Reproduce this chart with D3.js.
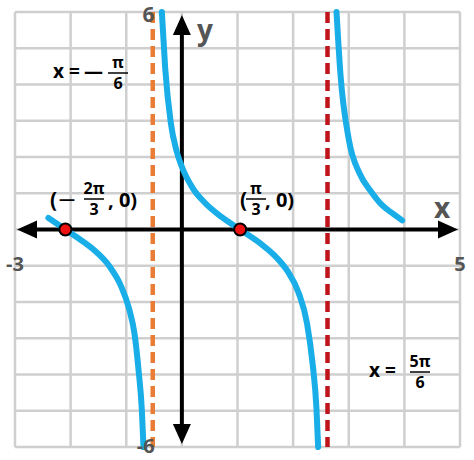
<!DOCTYPE html><html><head><script src="https://cdn.jsdelivr.net/npm/d3@7"></script>
<style>body{margin:0;background:#fff}text{font-family:"Open Sans",sans-serif;font-weight:bold}</style></head><body>
<svg width="474" height="460"></svg>
<script>
const xDomain=[-3,5], yDomain=[-6,6];
const xTicks=[-3,-2,-1,0,1,2,3,4,5], yTicks=[-6,-5,-4,-3,-2,-1,0,1,2,3,4,5,6];
const branch1=[[-2.4,0.32],[-2.2,0.11],[-2.094,0],[-1.9,-0.2],[-1.6,-0.54],[-1.3,-1.02],[-1.1,-1.54],[-0.95,-2.18],[-0.85,-2.89],[-0.78,-3.86],[-0.72,-4.97],[-0.69,-6]];
const branch2=[[-0.36,6],[-0.3,4.45],[-0.2,2.95],[-0.1,2.19],[0,1.73],[0.2,1.13],[0.4,0.76],[0.7,0.36],[1.047,0],[1.4,-0.37],[1.7,-0.77],[1.9,-1.15],[2.1,-1.75],[2.25,-2.59],[2.35,-3.7],[2.42,-4.95],[2.45,-6]];
const branch3=[[2.78,6],[2.85,4.3],[3.0,2.49],[3.2,1.53],[3.4,1.05],[3.6,0.67],[3.8,0.43],[3.96,0.25]];
const asymptotes=[{x:-Math.PI/6,c:"#ea7d35"},{x:5*Math.PI/6,c:"#c0141c"}];
const zeros=[-2*Math.PI/3,Math.PI/3];
const svg=d3.select("svg");
const x=d3.scaleLinear().domain(xDomain).range([15,460]);
const y=d3.scaleLinear().domain(yDomain).range([447,12]);
const g=svg.append("g");
g.selectAll(".v").data(xTicks).join("line").attr("x1",d=>x(d)).attr("x2",d=>x(d)).attr("y1",y(6)).attr("y2",y(-6)).attr("stroke","#cfcfcf").attr("stroke-width",2.5);
g.selectAll(".h").data(yTicks).join("line").attr("y1",d=>y(d)).attr("y2",d=>y(d)).attr("x1",x(-3)).attr("x2",x(5)).attr("stroke","#cfcfcf").attr("stroke-width",2.5);
svg.append("line").attr("x1",x(-3)+12).attr("x2",x(5)-14).attr("y1",y(0)).attr("y2",y(0)).attr("stroke","#000").attr("stroke-width",4);
svg.append("line").attr("x1",x(0)).attr("x2",x(0)).attr("y1",y(6)+18).attr("y2",y(-6)-18).attr("stroke","#000").attr("stroke-width",4);
const tri=(p)=>svg.append("path").attr("d",d3.line()(p)+"Z").attr("fill","#000");
const ax=y(0), ay=x(0);
tri([[x(-3)+2,ax],[x(-3)+22,ax-9],[x(-3)+22,ax+9]]);
tri([[x(5)-2,ax],[x(5)-22,ax-9],[x(5)-22,ax+9]]);
tri([[ay,y(6)+3],[ay-9,y(6)+23],[ay+9,y(6)+23]]);
tri([[ay,y(-6)-3],[ay-9,y(-6)-23],[ay+9,y(-6)-23]]);
svg.selectAll(".asy").data(asymptotes).join("line").attr("x1",d=>x(d.x)).attr("x2",d=>x(d.x)).attr("y1",y(6)).attr("y2",y(-6)).attr("stroke",d=>d.c).attr("stroke-width",4.5).attr("stroke-dasharray","11,6");
const line=d3.line().x(d=>x(d[0])).y(d=>y(d[1])).curve(d3.curveMonotoneX);
[branch1,branch2,branch3].forEach(b=>svg.append("path").attr("d",line(b)).attr("fill","none").attr("stroke","#1aaee8").attr("stroke-width",6).attr("stroke-linecap","round"));
svg.selectAll(".z").data(zeros).join("circle").attr("cx",d=>x(d)).attr("cy",y(0)).attr("r",6).attr("fill","#ee1111").attr("stroke","#000").attr("stroke-width",2);
const t=(s,px,py,sz,col,anchor)=>svg.append("text").text(s).attr("x",px).attr("y",py).attr("font-size",sz).attr("fill",col||"#000").attr("text-anchor",anchor||"start");
t("6",x(-0.6),y(6)+10,21,"#555","middle");
t("-6",x(-0.65),y(-6)+6,20,"#555","middle");
t("-3",x(-3),y(0)+41,20,"#555","middle");
t("5",x(5),y(0)+41,20,"#555","middle");
t("y",205,40,28,"#555","middle");
t("x",442,218,28,"#555","middle");
const frac=(num,den,cx,cy,sz)=>{t(num,cx,cy-4,sz,"#000","middle");t(den,cx,cy+sz+1,sz,"#000","middle");svg.append("line").attr("x1",cx-10).attr("x2",cx+10).attr("y1",cy+1).attr("y2",cy+1).attr("stroke","#000").attr("stroke-width",1.5);};
t("x =",53,78,19); t("—",84,78,19); frac("π","6",118,72,16);
t("x =",369,377,19); frac("5π","6",420,371,16);
t("(",50,207,21); t("—",59,204,16); frac("2π","3",94,198,16); t(", 0)",108,207,20);
t("(",240,207,21); frac("π","3",256,198,16); t(", 0)",265,207,20);
</script></body></html>
